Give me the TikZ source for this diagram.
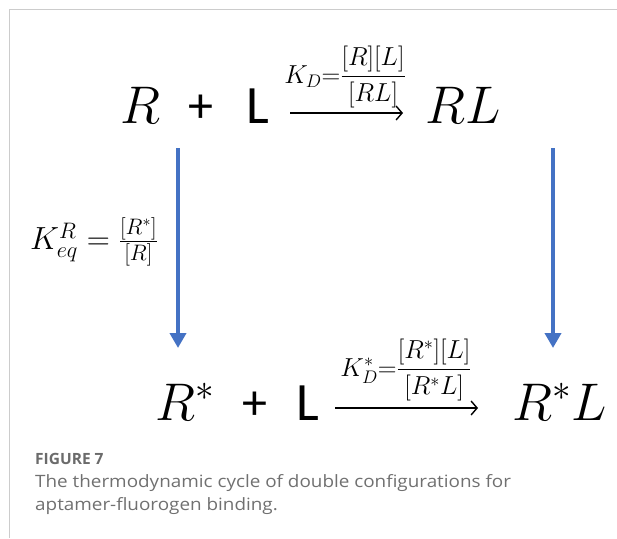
\RequirePackage{fix-cm}
\documentclass[tikz,border=0pt]{standalone}
\usepackage{amsmath}
\usepackage{fontspec}
\usepackage{xcolor}
\usetikzlibrary{arrows.meta, positioning}
\newfontfamily\labelsans{Carlito}
\newfontfamily\captionsans{Open Sans}
\newfontfamily\captionwide{Open Sans}[FakeStretch=1.11]
\definecolor{cycleblue}{HTML}{4472C4}
\definecolor{captiongray}{HTML}{707070}
\tikzset{
  species/.style={anchor=base, inner sep=0pt, font=\fontsize{53}{60}\selectfont},
  plain/.style={anchor=base, inner sep=0pt, font=\labelsans\fontsize{54}{60}\selectfont},
  plussign/.style={anchor=base, inner sep=0pt, font=\labelsans\fontsize{50}{56}\selectfont},
  rate/.style={inner sep=0pt, font=\fontsize{26}{30}\selectfont},
  eqlabel/.style={inner sep=0pt, font=\fontsize{32}{38}\selectfont},
  react/.style={-{Straight Barb[length=6pt, width=14pt]}, line width=1.4pt},
  cyclearrow/.style={-{Triangle[length=15pt, width=16pt]}, line width=4.5pt, cycleblue},
  frameline/.style={line width=1.5pt, black!20},
  caption/.style={anchor=base west, inner sep=0pt, font=\captionwide\fontsize{17}{23}\selectfont, text=captiongray}
}

\begin{document}
\begin{tikzpicture}[x=1pt, y=-1pt]
    \useasboundingbox (0,0) rectangle (617,538);
    % frame
    \coordinate (tl) at (9.5,9.5);
    \coordinate (tr) at (617,9.5);
    \coordinate (bl) at (9.5,538);
    \draw[frameline] (tr) -- (tl) -- (bl);

    % top row
    \node[species] (R) at (140,123) {$R$};
    \node[plussign] (plus1) at (201,122) {+};
    \node[plain] (L1) at (258,123) {L};
    \node[species] (RL) at (463,123) {$RL$};
    \coordinate (a1s) at (290,113);
    \coordinate (a1e) at (403,113);
    \draw[react] (a1s) -- (a1e);
    \node[rate] (KD) at (345,77) {$K_D{=}\dfrac{[R][L]}{[RL]}$};

    % bottom row
    \node[species] (Rs) at (185,420) {$R^*$};
    \node[plussign] (plus2) at (255,419) {+};
    \node[plain] (L2) at (308,420) {L};
    \node[species] (RsL) at (560,420) {$R^*L$};
    \coordinate (a2s) at (335,408);
    \coordinate (a2e) at (478,408);
    \draw[react] (a2s) -- (a2e);
    \node[rate] (KDs) at (406,370) {$K_D^*{=}\dfrac{[R^*][L]}{[R^*L]}$};

    % vertical arrows
    \coordinate (v1s) at (178,148);
    \coordinate (v1e) at (178,348);
    \coordinate (v2s) at (553,148);
    \coordinate (v2e) at (553,348);
    \draw[cyclearrow] (v1s) -- (v1e);
    \draw[cyclearrow] (v2s) -- (v2e);
    \node[eqlabel] (Keq) at (94,242) {$K_{eq}^R = \frac{[R^*]}{[R]}$};

    % caption
    \node[caption, font=\captionsans\bfseries\fontsize{15.5}{23}\selectfont, text=black!58] (fig) at (35,464) {FIGURE 7};
    \node[caption] (cap1) at (35,487) {The thermodynamic cycle of double configurations for};
    \node[caption] (cap2) at (35,510) {aptamer-fluorogen binding.};
\end{tikzpicture}
\end{document}
